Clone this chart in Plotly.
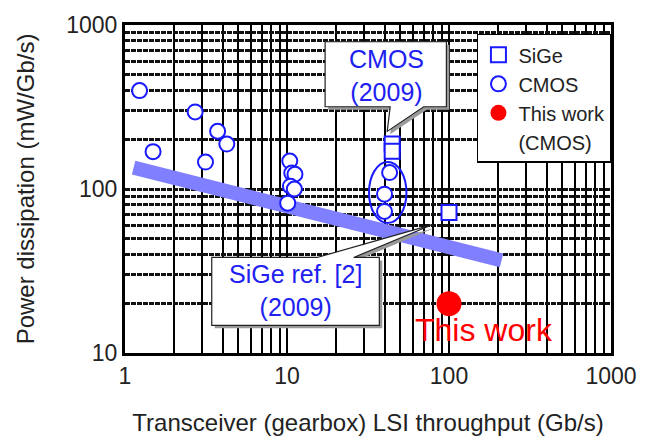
import plotly.graph_objects as go

# ---- data -------------------------------------------------------------
sige_x = [44.6, 44.6, 100]
sige_y = [188, 170, 72]

cmos_x = [1.23, 1.49, 2.71, 3.73, 4.25, 3.14, 10.4, 10.7, 11.2, 10.5, 11.1, 10.1, 43, 40, 40]
cmos_y = [398, 169, 295, 225, 188, 146, 148, 125, 123, 104, 100, 82, 126, 93, 73]

this_work_x = [100]
this_work_y = [20]

trend_x = [1.13, 211]
trend_y = [135, 36.7]

x_ticks = [1, 10, 100, 1000]
x_ticktext = ["1", "10", "100", "1000"]
y_ticks = [10, 100, 1000]
y_ticktext = ["10", "100", "1000"]

# ---- layout geometry (pixels) ----------------------------------------
W, H = 649, 445
L, R, T, B = 125, 618, 20, 353


def px(x):
    return (x - L) / (R - L)


def py(y):
    return (B - y) / (B - T)


def bubble_path(pts, dx=0, dy=0):
    s = "M " + " L ".join(f"{px(x + dx):.5f},{py(y + dy):.5f}" for x, y in pts)
    return s + " Z"


FONT = "Arial, 'Liberation Sans', sans-serif"
BLUE_TXT = "#2020f0"
BLUE_MK = "#1a1aff"

fig = go.Figure()

# trend band
fig.add_trace(go.Scatter(
    x=trend_x, y=trend_y, mode="lines",
    line=dict(color="#7f7fff", width=14),
    showlegend=False, hoverinfo="skip",
))

fig.add_trace(go.Scatter(
    x=cmos_x, y=cmos_y, mode="markers", name="CMOS", legendrank=2,
    marker=dict(symbol="circle", size=15, color="white",
                line=dict(color=BLUE_MK, width=2)),
))

# SiGe squares drawn over the CMOS circles
fig.add_trace(go.Scatter(
    x=sige_x, y=sige_y, mode="markers", name="SiGe", legendrank=1,
    marker=dict(symbol="square", size=15, color="white",
                line=dict(color=BLUE_MK, width=2)),
))

fig.add_trace(go.Scatter(
    x=this_work_x, y=this_work_y, mode="markers", name="This work", legendrank=3,
    marker=dict(symbol="circle", size=25, color="#ff0000"),
))

# second legend line for the "This work" entry
fig.add_trace(go.Scatter(
    x=[None], y=[None], mode="markers", name="(CMOS)", legendrank=4,
    marker=dict(size=1, color="rgba(0,0,0,0)"), hoverinfo="skip",
))

shapes = []

# ellipse around the 2009 CMOS cluster
shapes.append(dict(type="circle", xref="paper", yref="paper",
                   x0=px(372.5), x1=px(410.5), y0=py(221), y1=py(159),
                   line=dict(color=BLUE_MK, width=2), layer="above"))

# callout: CMOS (2009)
cmos_bubble = [(328, 37), (451, 37), (451, 103), (428, 103), (391, 128), (394, 103), (328, 103)]
# callout: SiGe ref. [2] (2009)
sige_bubble = [(213, 256), (320, 256), (436, 223), (357, 256), (383, 256), (383, 325), (213, 325)]

for pts in (cmos_bubble, sige_bubble):
    shapes.append(dict(type="path", xref="paper", yref="paper",
                       path=bubble_path(pts, 3, 3), fillcolor="#9a9a9a",
                       line=dict(width=0), layer="above"))
    shapes.append(dict(type="path", xref="paper", yref="paper",
                       path=bubble_path(pts), fillcolor="white",
                       line=dict(color="#222", width=1.2), layer="above"))

annotations = [
    dict(xref="paper", yref="paper", x=px(390), y=py(71), text="CMOS<br>(2009)",
         showarrow=False, font=dict(family=FONT, size=25, color=BLUE_TXT),
         xanchor="center", yanchor="middle"),
    dict(xref="paper", yref="paper", x=px(298), y=py(290), text="SiGe ref. [2]<br>(2009)",
         showarrow=False, font=dict(family=FONT, size=25, color=BLUE_TXT),
         xanchor="center", yanchor="middle"),
    dict(xref="paper", yref="paper", x=px(489), y=py(330), text="This work",
         showarrow=False, font=dict(family=FONT, size=32, color="#ff0000"),
         xanchor="center", yanchor="middle"),
]

axis_common = dict(
    type="log",
    showline=True, linecolor="black", linewidth=3, mirror=True,
    ticks="", showgrid=True, zeroline=False,
    tickfont=dict(family=FONT, size=23, color="#222"),
)

fig.update_xaxes(
    **axis_common,
    range=[0, 3],
    tickmode="array", tickvals=x_ticks, ticktext=x_ticktext,
    gridcolor="black", gridwidth=2,
    minor=dict(dtick="D1", showgrid=True, gridcolor="black", gridwidth=2, ticks=""),
    title=dict(text="Transceiver (gearbox) LSI throughput (Gb/s)",
               font=dict(family=FONT, size=24, color="#222"), standoff=27),
)
fig.update_yaxes(
    **axis_common,
    range=[1, 3],
    tickmode="array", tickvals=y_ticks, ticktext=y_ticktext,
    gridcolor="#111", gridwidth=2.5, griddash="5px,1px",
    minor=dict(dtick="D1", showgrid=True, gridcolor="#111", gridwidth=2.5,
               griddash="5px,1px", ticks=""),
    title=dict(text="Power dissipation (mW/Gb/s)",
               font=dict(family=FONT, size=24, color="#222"), standoff=25),
)

fig.update_layout(
    width=W, height=H,
    margin=dict(l=L, r=W - R, t=T, b=H - B),
    paper_bgcolor="white", plot_bgcolor="white",
    shapes=shapes, annotations=annotations,
    legend=dict(
        x=px(482), y=py(29), xanchor="left", yanchor="top",
        bgcolor="white", bordercolor="black", borderwidth=1.5,
        font=dict(family=FONT, size=20, color="#222"),
        traceorder="normal",
    ),
    showlegend=True,
)

fig.write_html("out.html")
